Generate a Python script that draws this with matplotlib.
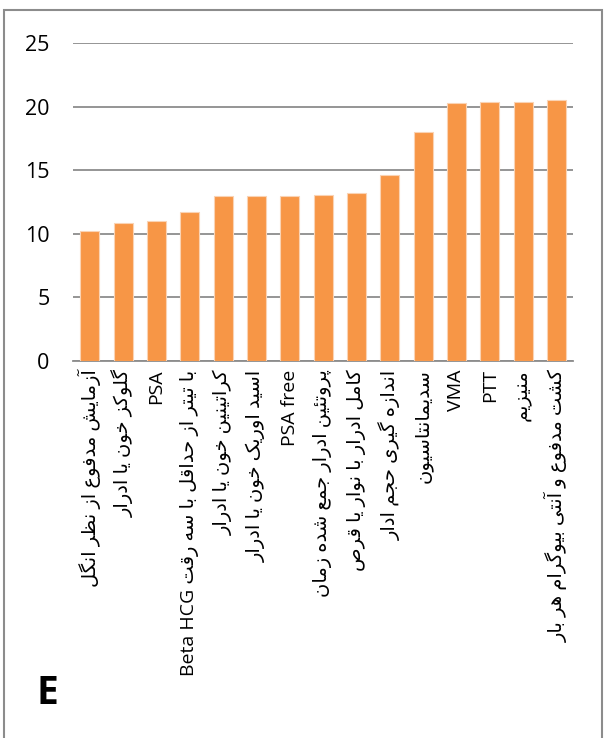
#!/usr/bin/env python3

import matplotlib
matplotlib.use("Agg")
import matplotlib.pyplot as plt
from matplotlib.patches import Rectangle

# Data
labels = [
    "آزمایش مدفوع از نظر انگل",
    "گلوکز خون یا ادرار",
    "PSA",
    "با تیتر از حداقل با سه رقت Beta HCG",
    "کراتینین خون یا ادرار",
    "اسید اوریک خون یا ادرار",
    "PSA free",
    "پروتئین ادرار جمع شده زمان",
    "کامل ادرار با نوار یا قرص",
    "اندازه گیری حجم ادار",
    "سدیمانتاسیون",
    "VMA",
    "PTT",
    "منیزیم",
    "کشت مدفوع و آنتی بیوگرام هر بار",
]
values = [10.25, 10.85, 11.03, 11.68, 12.95, 12.95, 12.97, 13.05, 13.2,
          14.66, 18.03, 20.28, 20.4, 20.4, 20.55]
yticks = [0, 5, 10, 15, 20, 25]
panel_letter = "E"

# --- minimal Arabic/Persian shaping (matplotlib 3.10 has no text shaping) ---
# letter: (isolated, final, initial, medial); None for initial/medial = right-joining only
FORMS = {
    "ء": (0xFE80, None, None, None),
    "آ": (0xFE81, 0xFE82, None, None),
    "أ": (0xFE83, 0xFE84, None, None),
    "ؤ": (0xFE85, 0xFE86, None, None),
    "إ": (0xFE87, 0xFE88, None, None),
    "ئ": (0xFE89, 0xFE8A, 0xFE8B, 0xFE8C),
    "ا": (0xFE8D, 0xFE8E, None, None),
    "ب": (0xFE8F, 0xFE90, 0xFE91, 0xFE92),
    "ة": (0xFE93, 0xFE94, None, None),
    "ت": (0xFE95, 0xFE96, 0xFE97, 0xFE98),
    "ث": (0xFE99, 0xFE9A, 0xFE9B, 0xFE9C),
    "ج": (0xFE9D, 0xFE9E, 0xFE9F, 0xFEA0),
    "ح": (0xFEA1, 0xFEA2, 0xFEA3, 0xFEA4),
    "خ": (0xFEA5, 0xFEA6, 0xFEA7, 0xFEA8),
    "د": (0xFEA9, 0xFEAA, None, None),
    "ذ": (0xFEAB, 0xFEAC, None, None),
    "ر": (0xFEAD, 0xFEAE, None, None),
    "ز": (0xFEAF, 0xFEB0, None, None),
    "س": (0xFEB1, 0xFEB2, 0xFEB3, 0xFEB4),
    "ش": (0xFEB5, 0xFEB6, 0xFEB7, 0xFEB8),
    "ص": (0xFEB9, 0xFEBA, 0xFEBB, 0xFEBC),
    "ض": (0xFEBD, 0xFEBE, 0xFEBF, 0xFEC0),
    "ط": (0xFEC1, 0xFEC2, 0xFEC3, 0xFEC4),
    "ظ": (0xFEC5, 0xFEC6, 0xFEC7, 0xFEC8),
    "ع": (0xFEC9, 0xFECA, 0xFECB, 0xFECC),
    "غ": (0xFECD, 0xFECE, 0xFECF, 0xFED0),
    "ف": (0xFED1, 0xFED2, 0xFED3, 0xFED4),
    "ق": (0xFED5, 0xFED6, 0xFED7, 0xFED8),
    "ك": (0xFED9, 0xFEDA, 0xFEDB, 0xFEDC),
    "ل": (0xFEDD, 0xFEDE, 0xFEDF, 0xFEE0),
    "م": (0xFEE1, 0xFEE2, 0xFEE3, 0xFEE4),
    "ن": (0xFEE5, 0xFEE6, 0xFEE7, 0xFEE8),
    "ه": (0xFEE9, 0xFEEA, 0xFEEB, 0xFEEC),
    "و": (0xFEED, 0xFEEE, None, None),
    "ى": (0xFEEF, 0xFEF0, None, None),
    "ي": (0xFEF1, 0xFEF2, 0xFEF3, 0xFEF4),
    "پ": (0xFB56, 0xFB57, 0xFB58, 0xFB59),
    "چ": (0xFB7A, 0xFB7B, 0xFB7C, 0xFB7D),
    "ژ": (0xFB8A, 0xFB8B, None, None),
    "ک": (0xFB8E, 0xFB8F, 0xFB90, 0xFB91),
    "گ": (0xFB92, 0xFB93, 0xFB94, 0xFB95),
    "ی": (0xFBFC, 0xFBFD, 0xFBFE, 0xFBFF),
}


def is_rtl(ch):
    return ch in FORMS or "\u0600" <= ch <= "\u06FF"


def shape(word):
    out = []
    for i, ch in enumerate(word):
        if ch not in FORMS:
            out.append(ch)
            continue
        prev = word[i - 1] if i > 0 else ""
        nxt = word[i + 1] if i + 1 < len(word) else ""
        join_prev = prev in FORMS and FORMS[prev][2] is not None
        join_next = FORMS[ch][2] is not None and nxt in FORMS
        iso, fin, ini, med = FORMS[ch]
        if join_prev and join_next:
            code = med
        elif join_prev and fin:
            code = fin
        elif join_next:
            code = ini
        else:
            code = iso
        out.append(chr(code))
    return "".join(out)


def visual(text):
    # RTL paragraph: split into runs, reverse run order, reverse RTL runs
    if not any(is_rtl(c) for c in text):
        return text
    kinds = []
    for i, ch in enumerate(text):
        if ch != " ":
            kinds.append("r" if is_rtl(ch) else "l")
            continue
        before = next((c for c in reversed(text[:i]) if c != " "), "")
        after = next((c for c in text[i + 1:] if c != " "), "")
        ltr_both = before and after and not is_rtl(before) and not is_rtl(after)
        kinds.append("l" if ltr_both else "r")
    runs = []
    for ch, kind in zip(text, kinds):
        if runs and runs[-1][0] == kind:
            runs[-1][1] += ch
        else:
            runs.append([kind, ch])
    parts = []
    for kind, s in reversed(runs):
        parts.append(shape(s)[::-1] if kind == "r" else s)
    return "".join(parts).strip()


# --- plot ---
bar_color = "#F79646"
grid_color = "#8C8C8C"

fig = plt.figure(figsize=(6.04, 7.38), dpi=100)
ax = fig.add_axes([73 / 604, 1 - 361 / 738, 500 / 604, 318 / 738])

x = range(len(values))
ax.bar(x, values, width=0.57, color=bar_color, edgecolor="#FAD3B4",
       linewidth=0.8, zorder=3)

ax.set_xlim(-0.5, len(values) - 0.5)
ax.set_ylim(0, 25)
ax.set_yticks(yticks)
ax.set_yticklabels([str(v) for v in yticks], fontsize=15.5, family="Open Sans")
ax.yaxis.grid(True, color=grid_color, linewidth=1.3)
ax.set_axisbelow(True)
ax.tick_params(axis="y", length=0, pad=17)
ax.tick_params(axis="x", length=0, pad=6)

ax.set_xticks(list(x))
ax.set_xticklabels([visual(s) for s in labels], rotation=90, fontsize=18,
                   family=["Open Sans", "DejaVu Sans"])
for t in ax.get_xticklabels():
    if not any(is_rtl(c) for c in t.get_text()):
        t.set_fontsize(14)

for side in ["top", "right", "left"]:
    ax.spines[side].set_visible(False)
ax.spines["bottom"].set_color(grid_color)
ax.spines["bottom"].set_linewidth(1.3)

# outer frame of the panel
fig.patches.append(Rectangle((3.5 / 604, -0.01), 598 / 604, 1 - 10 / 738 + 0.01,
                             transform=fig.transFigure, fill=False,
                             edgecolor="#8C8C8C", linewidth=1.5))

fig.text(47 / 604, 1 - 694 / 738, panel_letter, fontsize=28, fontweight="bold",
         family="Open Sans", ha="center", va="center")

fig.savefig("out.png", dpi=100)
